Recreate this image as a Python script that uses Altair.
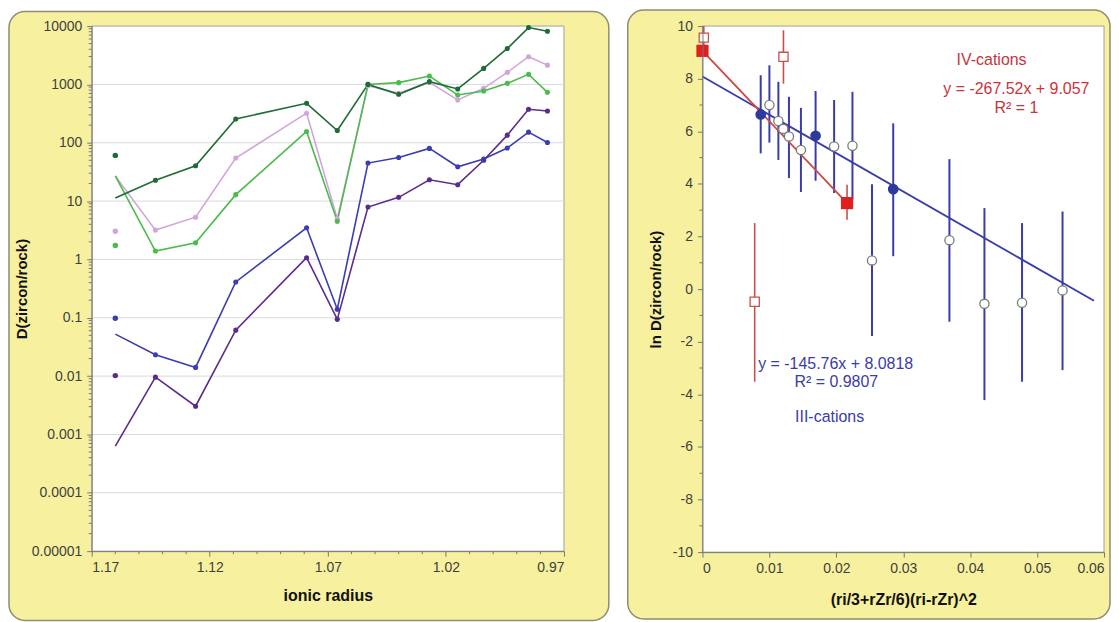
import altair as alt
import pandas as pd

# ---------------- data: left panel ----------------
elements = ["La", "Ce", "Pr", "Nd", "Sm", "Eu", "Gd", "Tb", "Dy", "Ho", "Er", "Tm", "Yb", "Lu"]
radius = [1.160, 1.143, 1.126, 1.109, 1.079, 1.066, 1.053, 1.040, 1.027, 1.015, 1.004, 0.994, 0.985, 0.977]

s_dkgreen = [11.3, 22.7, 40.4, 256, 474, 162, 1000, 676, 1114, 834, 1879, 4130, 9420, 8150]
s_pink = [27, 3.18, 5.3, 54.6, 321, 5.0, 950, 703, 1080, 541, 857, 1607, 2980, 2138]
s_ltgreen = [27, 1.39, 1.93, 12.9, 156, 4.5, 1000, 1072, 1390, 658, 769, 1042, 1486, 731]
s_blue = [0.0524, 0.0233, 0.0141, 0.411, 3.48, 0.14, 44.8, 56, 80, 38.7, 52.5, 81, 152, 101]
s_purple = [0.00063, 0.0096, 0.00305, 0.0614, 1.07, 0.094, 7.9, 11.6, 23.2, 19.1, 50, 135, 375, 351]

la_dots = {"dkgreen": 60.7, "pink": 3.05, "ltgreen": 1.73, "blue": 0.0985, "purple": 0.0102}

series_order = ["purple", "blue", "pink", "ltgreen", "dkgreen"]
series_vals = {"dkgreen": s_dkgreen, "pink": s_pink, "ltgreen": s_ltgreen,
               "blue": s_blue, "purple": s_purple}
series_colors = ["#5a2c8c", "#3b3db0", "#d3a4dc", "#4cba4c", "#1f6b36"]

y_major = [0.00001, 0.0001, 0.001, 0.01, 0.1, 1, 10, 100, 1000, 10000]
y_minor = [m * d for d in y_major[:-1] for m in range(2, 10)]
x_major = [1.17, 1.12, 1.07, 1.02, 0.97]
x_minor = [1.16, 1.15, 1.14, 1.13, 1.11, 1.10, 1.09, 1.08, 1.06, 1.05, 1.04, 1.03,
           1.01, 1.00, 0.99, 0.98]

# ---------------- data: right panel ----------------
iv_fill_x = [0.0, 0.0216]
iv_fill_y = [9.057, 3.27]
iv_fill_lo = [None, 2.64]
iv_fill_hi = [None, 3.97]
iv_open_x = [0.0002, 0.0078, 0.0121]
iv_open_y = [9.56, -0.48, 8.83]
iv_open_lo = [9.2, -3.52, 7.81]
iv_open_hi = [10.0, 2.51, 9.84]

iii_fill_x = [0.0087, 0.0169, 0.0285]
iii_fill_y = [6.64, 5.83, 3.80]
iii_fill_lo = [5.16, 4.12, 1.25]
iii_fill_hi = [8.13, 7.53, 6.30]
iii_open_x = [0.0100, 0.01134, 0.01207, 0.01292, 0.01471, 0.01967, 0.02241, 0.02533,
              0.0369, 0.04213, 0.04775, 0.0538]
iii_open_y = [7.0, 6.39, 6.09, 5.80, 5.29, 5.42, 5.45, 1.09, 1.86, -0.56, -0.52, -0.05]
iii_open_lo = [5.57, 4.91, None, 4.22, 3.69, 3.65, 3.4, -1.78, -1.24, -4.22, -3.52, -3.08]
iii_open_hi = [8.51, 7.88, None, 7.31, 6.89, 7.19, 7.5, 3.99, 4.94, 3.08, 2.51, 2.95]

fit_iii_x = [0.0, 0.0585]
fit_iii_y = [8.0818, -0.445]

r_y_major = [-10, -8, -6, -4, -2, 0, 2, 4, 6, 8, 10]
r_y_minor = [-9, -7, -5, -3, -1, 1, 3, 5, 7, 9]
r_x_major = [0, 0.01, 0.02, 0.03, 0.04, 0.05, 0.06]

annot_text = ["IV-cations", "y = -267.52x + 9.057", "R\u00b2 = 1",
              "y = -145.76x + 8.0818", "R\u00b2 = 0.9807", "III-cations"]
annot_x = [0.0432, 0.0469, 0.0469, 0.0199, 0.0200, 0.0190]
annot_y = [8.71, 7.61, 6.90, -2.84, -3.55, -4.87]
annot_grp = ["IV", "IV", "IV", "III", "III", "III"]

# ---------------- styling ----------------
FONT = "Liberation Sans"
YELLOW = "#f7f09e"
BOXSTROKE = "#8e8c72"
BLUE = "#3a3ca8"

# ---------------- left panel ----------------
LW, LH = 474, 527

rows = []
for s in series_order:
    for i, (el, r) in enumerate(zip(elements, radius)):
        rows.append({"series": s, "el": el, "r": r, "v": series_vals[s][i], "idx": i})
df_lines = pd.DataFrame(rows)
df_pts = df_lines[df_lines["idx"] > 0]
df_la = pd.DataFrame({"series": list(la_dots.keys()), "r": [radius[0]] * 5,
                      "v": list(la_dots.values())})

xs_l = alt.Scale(domain=[0.97, 1.17], reverse=True, nice=False, zero=False)
ys_l = alt.Scale(type="log", domain=[0.00001, 10000], nice=False)
col_l = alt.Scale(domain=series_order, range=series_colors)

one = alt.Data(values=[{"k": 1}])

box_l = alt.Chart(one).mark_rect(fill=YELLOW, stroke=BOXSTROKE, strokeWidth=1.5,
                                 cornerRadius=16).encode(
    x=alt.value(-83), x2=alt.value(519), y=alt.value(-14.5), y2=alt.value(596.5))
plot_l = alt.Chart(one).mark_rect(fill="white", stroke="#a0a0a0", strokeWidth=1).encode(
    x=alt.value(0), x2=alt.value(LW), y=alt.value(0), y2=alt.value(LH))

grid_l = alt.Chart(pd.DataFrame({"v": y_major[1:-1]})).mark_rule(
    color="#d9d9d9", strokeWidth=1).encode(
    y=alt.Y("v:Q", scale=ys_l), x=alt.value(0), x2=alt.value(LW))

ymin_l = alt.Chart(pd.DataFrame({"v": y_minor})).mark_rule(color="#777", strokeWidth=1).encode(
    y=alt.Y("v:Q", scale=ys_l), x=alt.value(-3), x2=alt.value(0))
xmin_l = alt.Chart(pd.DataFrame({"r": x_minor})).mark_rule(color="#777", strokeWidth=1).encode(
    x=alt.X("r:Q", scale=xs_l), y=alt.value(LH), y2=alt.value(LH + 3))

lines_l = alt.Chart(df_lines).mark_line(strokeWidth=1.6).encode(
    x=alt.X("r:Q", scale=xs_l,
            axis=alt.Axis(values=x_major, format=".2f", title="ionic radius", grid=False,
                          tickSize=5, labelPadding=4, titlePadding=14, zindex=1,
                          domainColor="#777", tickColor="#777", labelColor="#404040",
                          labelFontSize=14, titleFontSize=16, titleFont=FONT,
                          labelFont=FONT, titleColor="#111")),
    y=alt.Y("v:Q", scale=ys_l,
            axis=alt.Axis(values=y_major, format="~g", title="D(zircon/rock)", grid=False,
                          tickSize=5, labelPadding=5, titlePadding=2,
                          zindex=1, domainColor="#777", tickColor="#777",
                          labelColor="#404040", labelFontSize=14, titleFontSize=15,
                          titleFont=FONT, labelFont=FONT, titleColor="#111")),
    color=alt.Color("series:N", scale=col_l, legend=None),
    order="idx:Q",
    detail="series:N",
)
pts_l = alt.Chart(df_pts).mark_circle(size=26, opacity=1).encode(
    x=alt.X("r:Q", scale=xs_l), y=alt.Y("v:Q", scale=ys_l),
    color=alt.Color("series:N", scale=col_l, legend=None))
la_l = alt.Chart(df_la).mark_circle(size=30, opacity=1).encode(
    x=alt.X("r:Q", scale=xs_l), y=alt.Y("v:Q", scale=ys_l),
    color=alt.Color("series:N", scale=col_l, legend=None))

left = alt.layer(box_l, plot_l, grid_l, ymin_l, xmin_l, lines_l, pts_l, la_l).properties(
    width=LW, height=LH)

# ---------------- right panel ----------------
RW, RH = 403, 528
xs_r = alt.Scale(domain=[0, 0.06], nice=False, zero=False)
ys_r = alt.Scale(domain=[-10, 10], nice=False, zero=False)

box_r = alt.Chart(one).mark_rect(fill=YELLOW, stroke=BOXSTROKE, strokeWidth=1.5,
                                 cornerRadius=16).encode(
    x=alt.value(-75), x2=alt.value(409), y=alt.value(-16), y2=alt.value(595))
plot_r = alt.Chart(one).mark_rect(fill="white", stroke="#a0a0a0", strokeWidth=1).encode(
    x=alt.value(0), x2=alt.value(RW), y=alt.value(0), y2=alt.value(RH))
ymin_r = alt.Chart(pd.DataFrame({"v": r_y_minor})).mark_rule(color="#777", strokeWidth=1).encode(
    y=alt.Y("v:Q", scale=ys_r), x=alt.value(-3), x2=alt.value(0))

df_iii_open = pd.DataFrame({"x": iii_open_x, "y": iii_open_y, "lo": iii_open_lo, "hi": iii_open_hi})
df_iii_fill = pd.DataFrame({"x": iii_fill_x, "y": iii_fill_y, "lo": iii_fill_lo, "hi": iii_fill_hi})
df_iv_open = pd.DataFrame({"x": iv_open_x, "y": iv_open_y, "lo": iv_open_lo, "hi": iv_open_hi})
df_iv_fill = pd.DataFrame({"x": iv_fill_x, "y": iv_fill_y, "lo": iv_fill_lo, "hi": iv_fill_hi})
df_iii_err = pd.concat([df_iii_open, df_iii_fill]).dropna()
df_iv_err = pd.concat([df_iv_open, df_iv_fill]).dropna()

err_iii = alt.Chart(df_iii_err).mark_rule(color=BLUE, strokeWidth=2).encode(
    x=alt.X("x:Q", scale=xs_r,
            axis=alt.Axis(values=r_x_major, format="~g", title="(ri/3+rZr/6)(ri-rZr)^2",
                          grid=False, tickSize=5, labelPadding=4, titlePadding=17, zindex=1,
                          domainColor="#777", tickColor="#777", labelColor="#404040",
                          labelFontSize=14, titleFontSize=16, labelFlush=True,
                          titleFont=FONT, labelFont=FONT, titleColor="#111")),
    y=alt.Y("lo:Q", scale=ys_r,
            axis=alt.Axis(values=r_y_major, labelExpr="'' + datum.value",
                          title="ln D(zircon/rock)", grid=False,
                          tickSize=5, labelPadding=5, titlePadding=9, zindex=1,
                          domainColor="#777", tickColor="#777", labelColor="#404040",
                          labelFontSize=14, titleFontSize=15, titleFont=FONT,
                          labelFont=FONT, titleColor="#111")),
    y2="hi:Q")
err_iv = alt.Chart(df_iv_err).mark_rule(color="#c8504a", strokeWidth=1.6).encode(
    x=alt.X("x:Q", scale=xs_r), y=alt.Y("lo:Q", scale=ys_r), y2="hi:Q")

fit_iii = alt.Chart(pd.DataFrame({"x": fit_iii_x, "y": fit_iii_y})).mark_line(
    color=BLUE, strokeWidth=1.8).encode(x=alt.X("x:Q", scale=xs_r), y=alt.Y("y:Q", scale=ys_r))
fit_iv = alt.Chart(pd.DataFrame({"x": iv_fill_x, "y": iv_fill_y})).mark_line(
    color="#cc4a40", strokeWidth=1.8).encode(x=alt.X("x:Q", scale=xs_r), y=alt.Y("y:Q", scale=ys_r))

open_iii = alt.Chart(df_iii_open).mark_point(shape="circle", size=85, filled=True, fill="white",
                                             stroke="#7a7a7a", strokeWidth=1.3, opacity=1).encode(
    x=alt.X("x:Q", scale=xs_r), y=alt.Y("y:Q", scale=ys_r))
fill_iii = alt.Chart(df_iii_fill).mark_circle(size=115, color="#2c3a9c", opacity=1).encode(
    x=alt.X("x:Q", scale=xs_r), y=alt.Y("y:Q", scale=ys_r))
open_iv = alt.Chart(df_iv_open).mark_point(shape="square", size=85, filled=True, fill="white",
                                           stroke="#c8504a", strokeWidth=1.3, opacity=1).encode(
    x=alt.X("x:Q", scale=xs_r), y=alt.Y("y:Q", scale=ys_r))
fill_iv = alt.Chart(df_iv_fill).mark_square(size=150, color="#e0201e", opacity=1).encode(
    x=alt.X("x:Q", scale=xs_r), y=alt.Y("y:Q", scale=ys_r))

df_annot = pd.DataFrame({"t": annot_text, "x": annot_x, "y": annot_y, "g": annot_grp})
annot = alt.Chart(df_annot).mark_text(font=FONT, fontSize=16, align="center",
                                      baseline="middle").encode(
    x=alt.X("x:Q", scale=xs_r), y=alt.Y("y:Q", scale=ys_r), text="t:N",
    color=alt.Color("g:N", scale=alt.Scale(domain=["IV", "III"], range=["#c8343a", "#3a3ca8"]),
                    legend=None))

right = alt.layer(box_r, plot_r, ymin_r, err_iii, err_iv, fit_iii, fit_iv,
                  open_iii, fill_iii, open_iv, fill_iv, annot).properties(width=RW, height=RH)

chart = alt.hconcat(left, right, spacing=17).resolve_scale(color="independent").properties(
    padding=0, background="white").configure_view(strokeWidth=0)

chart.save("out.html", embed_options={"renderer": "svg", "actions": False})
